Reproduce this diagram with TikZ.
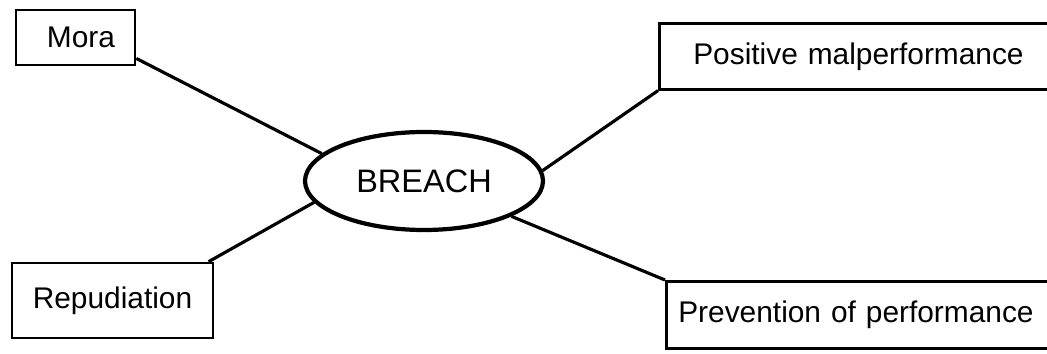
\documentclass[tikz,border=0pt]{standalone}
\usepackage{fontspec}
\setmainfont{Liberation Sans}
\usetikzlibrary{shapes.geometric}
\tikzset{
  box/.style={draw, line width=1.5pt, inner sep=0pt, font=\fontsize{17}{20}\selectfont},
  sidebox/.style={box, anchor=north west, align=left, text width=8cm},
  hub/.style={draw, ellipse, line width=2.4pt, minimum width=4.76cm, minimum height=1.96cm,
              inner sep=0pt, font=\fontsize{18.5}{22}\selectfont},
  link/.style={line width=1.8pt},
}
\begin{document}
\begin{tikzpicture}[x=0.02cm, y=-0.02cm]
  \useasboundingbox (0,0) rectangle (1047,354);
  \clip (0,0) rectangle (1047,354);
  \node[hub] (breach) at (424,181) {BREACH};
  \node[box, minimum height=1.1cm, inner xsep=0.4cm, text width=1.58cm, align=right] (mora) at (75.5,37.5) {Mora};
  \node[box, minimum width=4.02cm, minimum height=1.5cm] (repud) at (112.5,300.5) {Repudiation};
  \node[sidebox, minimum height=1.32cm, inner xsep=0.68cm] (posmal) at (658,22) {Positive malperformance};
  \node[sidebox, minimum height=1.34cm, inner xsep=0.24cm] (prevent) at (665,280) {Prevention of performance};
  % spokes
  \draw[link] (mora.-19) -- (breach.165);
  \draw[link] (repud.22) -- (breach.191);
  \draw[link] (breach.5) -- (posmal.south west);
  \draw[link] (breach.-22) -- (prevent.north west);
\end{tikzpicture}
\end{document}
